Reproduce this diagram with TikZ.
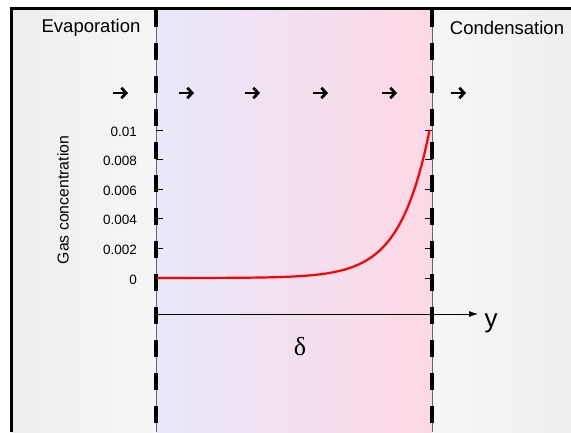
\documentclass[tikz,border=0pt]{standalone}
\usepackage{fontspec}
\setmainfont{Liberation Sans}
\newfontfamily\greekserif{Liberation Serif}
\usetikzlibrary{arrows.meta}

\definecolor{filmleft}{RGB}{232,232,249}
\definecolor{filmright}{RGB}{253,216,229}
\definecolor{sidelight}{RGB}{246,246,246}
\definecolor{sidedark}{RGB}{238,238,238}

\begin{document}
\begin{tikzpicture}[
  x=1pt,
  y=-1pt,
  leftside/.style={left color=sidedark,right color=sidelight,draw=none},
  rightside/.style={left color=sidelight,right color=sidedark,draw=none},
  film/.style={left color=filmleft,right color=filmright,draw=none},
  frame/.style={line width=3pt,black},
  iface/.style={draw=black!60,line width=0.9pt},
  ifacedash/.style={draw=black,line width=4.2pt,dash pattern=on 17pt off 16pt},
  ticmark/.style={black,line width=0.8pt},
  flow/.style={line width=2.8pt,-{Straight Barb[length=4.8pt,width=10.5pt,line width=2.8pt]}},
  profile/.style={red,line width=2.2pt},
  axisline/.style={line width=0.8pt,-{Latex[length=9pt,width=6pt]}},
  lab/.style={font=\fontsize{18.5}{22}\selectfont,inner sep=0pt},
  ticklab/.style={font=\fontsize{13.5}{15}\selectfont,inner sep=0pt,anchor=east},
  qlab/.style={font=\fontsize{15.8}{18}\selectfont,inner sep=0pt,rotate=90}
]
\useasboundingbox (0,0) rectangle (571,432);
\fill[white] (0,0) rectangle (571,432);

% regions
\path[leftside] (11,8) rectangle (156,432);
\path[film] (156,8) rectangle (432,432);
\path[rightside] (432,8) rectangle (571,432);
\draw[frame] (11.5,432) -- (11.5,8.5) -- (571,8.5);

% interfaces
\foreach \x in {156,432} {
  \draw[iface] (\x,10) -- (\x,432);
  \draw[ifacedash] (\x,10) -- (\x,432);
}

% texts
\node[lab] (evap) at (91,28) {Evaporation};
\node[lab] (cond) at (507,28) {Condensation};
\node[qlab] (gasc) at (63,200) {Gas concentration};

% flux arrows
\foreach \x in {121,187,253,321,390,459}
  \draw[flow] (\x-8,93) -- (\x+7,93);

% ticks and labels
\foreach \v [count=\i from 0] in {0,0.002,0.004,0.006,0.008,0.01} {
  \draw[ticmark] (156,278-29.6*\i) -- (163,278-29.6*\i);
  \draw[ticmark] (425,278-29.6*\i) -- (432,278-29.6*\i);
  \node[ticklab] (tl\i) at (137,279.5-29.6*\i) {\v};
}

% concentration profile
\draw[profile] plot[domain=0:1,samples=100]
  ({157+273*\x},{278-150*(exp(9.2*(\x-1))-exp(-9.2))/(1-exp(-9.2))});

% y axis
\coordinate (orig) at (156,314);
\coordinate (yend) at (478,314);
\draw[axisline] (orig) -- (yend);
\node[font=\fontsize{26}{30}\selectfont,inner sep=0pt] (ylab) at (491,323) {y};
\node[font=\fontsize{26}{30}\selectfont\greekserif,inner sep=0pt] (delta) at (300,347) {δ};
\end{tikzpicture}
\end{document}
